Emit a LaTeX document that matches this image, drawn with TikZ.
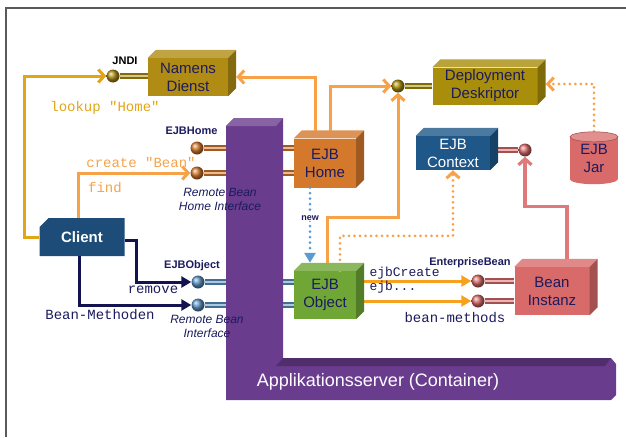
\documentclass[tikz,border=0pt]{standalone}
\usepackage{fontspec}
\setmainfont{Liberation Sans}
\setmonofont{Liberation Mono}
\usetikzlibrary{arrows.meta,shapes.misc}
\definecolor{ndgold}{HTML}{B08C14}
\definecolor{ddgold}{HTML}{A88E0A}
\definecolor{homeor}{HTML}{D4782C}
\definecolor{objgreen}{HTML}{6FA635}
\definecolor{ctxblue}{HTML}{1E5788}
\definecolor{clientblue}{HTML}{1D4C78}
\definecolor{beanred}{HTML}{D96A6A}
\definecolor{contpurple}{HTML}{6A3C8E}
\definecolor{navytext}{HTML}{1B1B5E}
\definecolor{goldline}{HTML}{E2A516}
\definecolor{orline}{HTML}{F7A248}
\definecolor{orbright}{HTML}{F6A21E}
\definecolor{navyline}{HTML}{13134F}
\definecolor{newblue}{HTML}{5B9BD2}
\definecolor{pinkline}{HTML}{E07A7A}
\definecolor{stickblue}{HTML}{5B92C4}
\definecolor{framegray}{HTML}{5A5A5A}

% top and right face of a box node
\newcommand\cubefaces[2]{%
  \fill[#2!80!white] (#1.north west) -- ++(8,-8) -- ([shift={(8,-8)}]#1.north east) -- (#1.north east) -- cycle;
  \fill[#2!75!black] (#1.north east) -- ++(8,-8) -- ([shift={(8,-8)}]#1.south east) -- (#1.south east) -- cycle;
}

\tikzset{
  cubebox/.style={fill=#1, inner sep=0pt, align=center, text=navytext,
    font=\fontsize{15}{18}\selectfont},
  knob/.style={circle, shading=ball, ball color=#1, minimum size=13pt, inner sep=0pt},
  stick/.style={draw=#1!75!black, double=#1!50!white, double distance=2.8pt, line width=1.2pt},
  wire/.style={line width=3pt},
  dotline/.style={line width=3pt, line cap=round, dash pattern=on 0pt off 5.5pt},
  tipbarb/.style={-{Straight Barb[length=6pt,width=13pt]}},
  tipfill/.style={-{Triangle[length=10pt,width=11pt]}},
  codelbl/.style={font=\fontsize{14}{15}\selectfont\ttfamily},
  taglbl/.style={font=\fontsize{11}{12}\selectfont\bfseries, text=navytext},
  ifacelbl/.style={font=\fontsize{12}{14}\selectfont\itshape, align=center, text=navytext},
}

\begin{document}
\begin{tikzpicture}[x=1pt, y=-1pt]
  \useasboundingbox (0,0) rectangle (626,437);
  \draw[framegray, line width=1.5pt] (626,8) -- (6,8) -- (6,437);

  % boxes
  \node[cubebox=ndgold, minimum width=80, minimum height=38] (nd) at (188,77) {Namens\\Dienst};
  \node[cubebox=ddgold, minimum width=105, minimum height=37] (dd) at (485,86) {Deployment\\Deskriptor};
  \node[cubebox=ctxblue, text=white, minimum width=74, minimum height=34] (ctx) at (453,153) {EJB\\Context};
  \node[cubebox=homeor, minimum width=62, minimum height=49] (home) at (325,163) {EJB\\Home};
  \node[cubebox=objgreen, minimum width=62, minimum height=48] (obj) at (325,295) {EJB\\Object};
  \node[cubebox=beanred, minimum width=75, minimum height=48] (bean) at (552,291) {Bean\\Instanz};
  \node[cubebox=beanred, minimum width=48, minimum height=42] (jar) at (594,158) {EJB\\Jar};
  \node[chamfered rectangle, chamfered rectangle corners=north west, chamfered rectangle xsep=10pt,
    fill=clientblue, text=white, minimum width=85, minimum height=38, inner sep=0pt,
    font=\fontsize{15}{18}\selectfont\bfseries] (client) at (82,237) {Client};

  % interface knobs
  \node[knob=ndgold] (jndi) at (113,76) {};
  \node[knob=ddgold] (ddball) at (398,86) {};
  \node[knob=homeor] (hb1) at (197,148) {};
  \node[knob=homeor] (hb2) at (197,173) {};
  \node[knob=stickblue] (ob1) at (198,282) {};
  \node[knob=stickblue] (ob2) at (198,305) {};
  \node[knob=beanred] (eb1) at (478,281) {};
  \node[knob=beanred] (eb2) at (478,301) {};
  \node[knob=beanred] (ctxball) at (525,150) {};

  \draw[stick=ndgold] (jndi.east) -- (nd.west |- jndi);
  \draw[stick=ddgold] (ddball.east) -- (dd.west |- ddball);
  \draw[stick=homeor] (hb1.east) -- (home.west |- hb1);
  \draw[stick=homeor] (hb2.east) -- (home.west |- hb2);
  \draw[stick=stickblue] (ob1.east) -- (obj.west |- ob1);
  \draw[stick=stickblue] (ob2.east) -- (obj.west |- ob2);
  \draw[stick=beanred] (eb1.east) -- (bean.west |- eb1);
  \draw[stick=beanred] (eb2.east) -- (bean.west |- eb2);
  \draw[stick=beanred] (ctx.east |- ctxball) -- (ctxball.west);

  % calls
  \draw[wire, goldline, tipbarb] (client.west) -- ++(-15,0) |- (jndi.west);
  \draw[wire, orline, tipbarb] ([xshift=-4]client.north) |- (hb2.west);
  \draw[wire, orline, tipbarb] ([xshift=-10]home.north) |- ([xshift=8]nd.east);
  \draw[wire, orline, tipbarb] ([xshift=5]home.north) |- (ddball.west);
  \draw[wire, orline, tipbarb] ([xshift=2]obj.north) -- ++(0,-53) -| (ddball.south);
  \draw[dotline, orline, tipbarb] ([xshift=15]obj.north) -- ++(0,-35) -| (ctx.south);
  \draw[dotline, orline, tipbarb] (jar.north) |- ([xshift=8,yshift=2]dd.east);
  \draw[dotline, newblue, tipfill] ([xshift=-15]home.south) -- ([xshift=-15,yshift=8]obj.north)
    node[pos=0.4, fill=white, inner sep=1pt, font=\fontsize{9}{10}\selectfont\bfseries, text=navytext] (newlbl) {new};
  \draw[wire, navyline, tipfill] ([yshift=-3]client.east) -- ++(12,0) |- (ob1.west);
  \draw[wire, navyline, tipfill] ([xshift=-3]client.south) |- (ob2.west);
  \draw[wire, orbright, tipfill] (obj.east |- eb1) -- (eb1.west);
  \draw[wire, orbright, tipfill] (obj.east |- eb2) -- (eb2.west);
  \draw[line width=3.2pt, pinkline, tipbarb] ([xshift=15]bean.north) -- ++(0,-60) -| (ctxball.south);

  \cubefaces{nd}{ndgold}
  \cubefaces{dd}{ddgold}
  \cubefaces{ctx}{ctxblue}
  \cubefaces{home}{homeor}
  \cubefaces{obj}{objgreen}
  \cubefaces{bean}{beanred}
  \fill[beanred] (jar.south west) arc[start angle=180, end angle=0, x radius=24, y radius=5];
  \fill[beanred!75!white, draw=beanred!70!black, line width=0.5pt] (jar.north) ellipse[x radius=24, y radius=5];

  % container
  \fill[contpurple] (226,126) -- (234,118) -- (283,118) -- (283,358) -- (611,358) -- (616,364)
    -- (616,395) -- (611,400) -- (226,400) -- cycle;
  \fill[contpurple!80!white] (226,126) -- (234,118) -- (283,118) -- (276,126) -- cycle;
  \fill[contpurple!75!black] (276,366) -- (283,358) -- (611,358) -- (605,366) -- cycle;
  \node[font=\fontsize{18}{20}\selectfont, text=white] (app) at (378,382) {Applikationsserver (Container)};

  % labels
  \node[taglbl, text=black] (jndilbl) at (125,61) {JNDI};
  \node[codelbl, text=goldline] (lookup) at (105,108) {lookup "Home"};
  \node[taglbl, anchor=east] (homelbl) at (221,131) {EJBHome};
  \node[codelbl, text=orline] (create) at (141,162) {create "Bean"};
  \node[codelbl, text=orline] (find) at (105,188) {find};
  \node[ifacelbl] (homeif) at (220,199) {Remote Bean\\Home Interface};
  \node[taglbl] (objlbl) at (192,266) {EJBObject};
  \node[codelbl, text=navytext] (remove) at (153,290) {remove};
  \node[codelbl, text=navytext] (beanmeth) at (100,315) {Bean-Methoden};
  \node[ifacelbl] (objif) at (207,326) {Remote Bean\\Interface};
  \node[taglbl] (eblbl) at (470,263) {EnterpriseBean};
  \node[font=\fontsize{13}{14}\selectfont\ttfamily, text=navytext, anchor=west, align=left] (ejbc) at (366,280) {ejbCreate\\ejb...};
  \node[codelbl, text=navytext] (bmeth) at (455,318) {bean-methods};
\end{tikzpicture}
\end{document}
